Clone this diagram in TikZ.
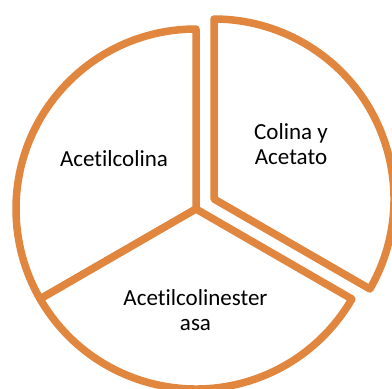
\documentclass[tikz,border=0pt]{standalone}
\usepackage{fontspec}
\setmainfont{Carlito}[Ligatures=NoCommon]
\definecolor{pieorange}{RGB}{224,134,62}
\begin{document}
\begin{tikzpicture}[x=1pt,y=1pt,
  sector/.style={draw=pieorange, line width=7.5pt, fill=white, line join=round},
  lbl/.style={font=\fontsize{23}{25}\selectfont, align=center, text=black, inner sep=0pt}]
\useasboundingbox (0,0) rectangle (392,389);
\coordinate (c) at (196,180);
\coordinate (c2) at (214,190);
\draw[sector] (c) -- ++(90:180) arc[start angle=90, end angle=210, radius=180] -- cycle;
\draw[sector] (c) -- ++(210:180) arc[start angle=210, end angle=330, radius=180] -- cycle;
\draw[sector] (c2) -- ++(330:180) arc[start angle=330, end angle=450, radius=180] -- cycle;
\node[lbl] (a) at (114,230) {Acetilcolina};
\node[lbl] (b) at (291,245) {Colina y\\Acetato};
\node[lbl] (e) at (195.5,79) {Acetilcolinester\\asa};
\end{tikzpicture}
\end{document}
